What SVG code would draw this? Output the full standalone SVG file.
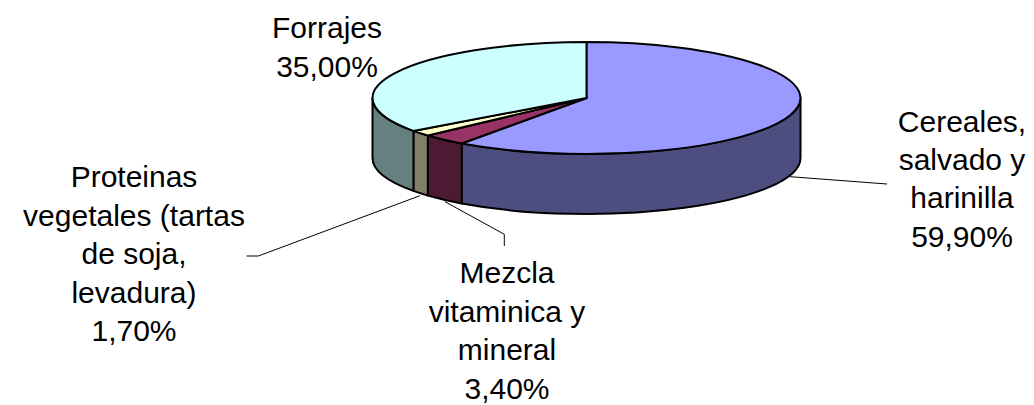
<svg xmlns="http://www.w3.org/2000/svg" width="1034" height="405" viewBox="0 0 1034 405">
<style>
.s{stroke:#000;stroke-width:2;stroke-linejoin:round}
.l{fill:none;stroke:#000;stroke-width:1}
text{font-family:"Liberation Sans",Arial,sans-serif;font-size:30px;fill:#000;text-anchor:middle}
</style>
<rect width="1034" height="405" fill="#fff"/>
<g id="pie">
<g id="cereales">
<path class="s" fill="#4D4D80" d="M800.5,98 A214 56 0 0 1 461.7,143.5 L461.7,203.5 A214 56 0 0 0 800.5,158 Z"/>
<path class="s" fill="#9999FF" d="M586.5,98 L586.5,42 A214 56 0 1 1 461.7,143.5 Z"/>
</g>
<g id="mezcla">
<path class="s" fill="#4D1A33" d="M461.7,143.5 A214 56 0 0 1 427.8,135.55 L427.8,195.55 A214 56 0 0 0 461.7,203.5 Z"/>
<path class="s" fill="#993366" d="M586.5,98 L461.7,143.5 A214 56 0 0 1 427.8,135.55 Z"/>
</g>
<g id="proteinas">
<path class="s" fill="#808066" d="M427.8,135.55 A214 56 0 0 1 413.4,130.9 L413.4,190.9 A214 56 0 0 0 427.8,195.55 Z"/>
<path class="s" fill="#FFFFCC" d="M586.5,98 L427.8,135.55 A214 56 0 0 1 413.4,130.9 Z"/>
</g>
<g id="forrajes">
<path class="s" fill="#668080" d="M413.4,130.9 A214 56 0 0 1 372.5,98 L372.5,158 A214 56 0 0 0 413.4,190.9 Z"/>
<path class="s" fill="#CCFFFF" d="M586.5,98 L413.4,130.9 A214 56 0 0 1 586.5,42 Z"/>
</g>
</g>
<g id="connectors">
<polyline class="l" points="790,176.7 887,184"/>
<polyline class="l" points="445,201.7 504.3,234.3 504.3,246"/>
<polyline class="l" points="420,195.7 258.3,256 246.7,256"/>
</g>
<g id="label-cereales">
<text x="962" y="131.7">Cereales,</text>
<text x="962" y="170">salvado y</text>
<text x="962" y="208.3">harinilla</text>
<text x="962" y="246.7">59,90%</text>
</g>
<g id="label-mezcla">
<text x="507" y="283.3">Mezcla</text>
<text x="507" y="321.5">vitaminica y</text>
<text x="507" y="360">mineral</text>
<text x="507" y="399">3,40%</text>
</g>
<g id="label-proteinas">
<text x="134" y="187.3">Proteinas</text>
<text x="134" y="225.7">vegetales (tartas</text>
<text x="134" y="264">de soja,</text>
<text x="134" y="302.7">levadura)</text>
<text x="134" y="341">1,70%</text>
</g>
<g id="label-forrajes">
<text x="327" y="37.7">Forrajes</text>
<text x="327" y="76.7">35,00%</text>
</g>
</svg>
